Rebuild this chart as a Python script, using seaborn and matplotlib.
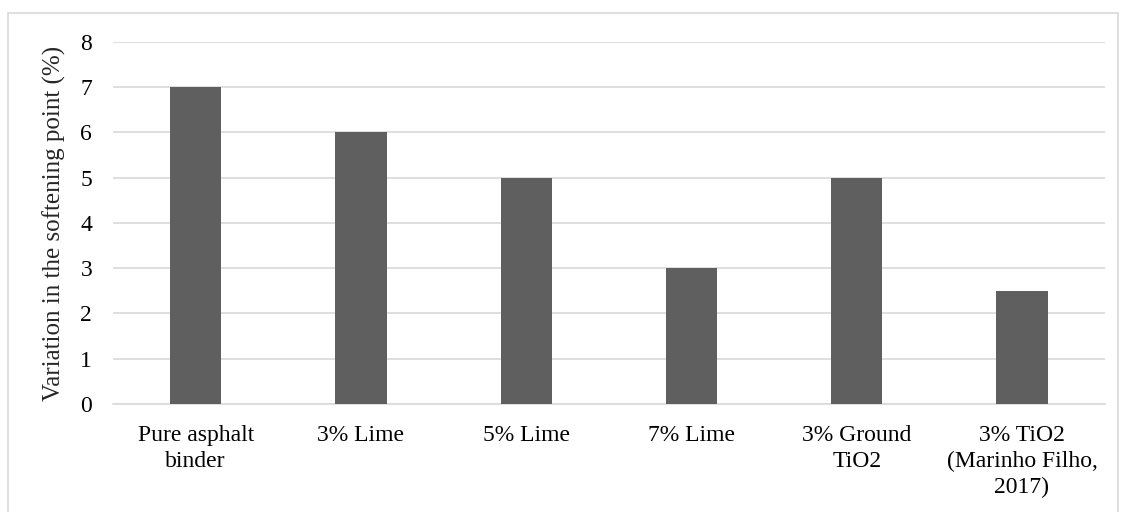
import matplotlib
matplotlib.use("Agg")
import matplotlib.pyplot as plt
import seaborn as sns
import pandas as pd
from matplotlib.patches import Rectangle

# ---------- Data ----------
categories = ["Pure asphalt\nbinder", "3% Lime", "5% Lime", "7% Lime",
              "3% Ground\nTiO2", "3% TiO2\n(Marinho Filho,\n2017)"]
variation = [7, 6, 5, 3, 5, 2.5]

df = pd.DataFrame({"Sample": categories, "Variation": variation})

# ---------- Style ----------
sns.set_style("white")
plt.rcParams['font.family'] = ['Liberation Serif', 'DejaVu Serif']

fig = plt.figure(figsize=(11.26, 5.12), dpi=100)
ax = fig.add_axes([0.1004, 0.211, 0.8806, 0.707])

sns.barplot(x="Sample", y="Variation", data=df, color="#5f5f5f",
            width=0.31, saturation=1, linewidth=0, ax=ax, zorder=3)

ax.set_ylim(0, 8)
ax.set_yticks(range(0, 9))
ax.yaxis.grid(True, color="#d9d9d9", linewidth=1.2, zorder=0)
ax.set_axisbelow(True)
for s in ["top", "right", "left"]:
    ax.spines[s].set_visible(False)
ax.spines["bottom"].set_color("#d9d9d9")
ax.spines["bottom"].set_linewidth(1.2)
ax.tick_params(axis="both", length=0, labelsize=17, colors="black")
ax.tick_params(axis="y", pad=15)
ax.tick_params(axis="x", pad=15)
for lbl in ax.get_xticklabels():
    lbl.set_linespacing(1.3)
ax.set_xlabel("")
ax.set_ylabel("Variation in the softening point (%)", fontsize=18, labelpad=10)

# outer frame
fig.patches.append(Rectangle((8 / 1126, -0.01), 1110 / 1126, 1 - 13 / 512 + 0.01,
                             transform=fig.transFigure, fill=False,
                             edgecolor="#d9d9d9", linewidth=1.2))

fig.savefig("out.png", dpi=100)
